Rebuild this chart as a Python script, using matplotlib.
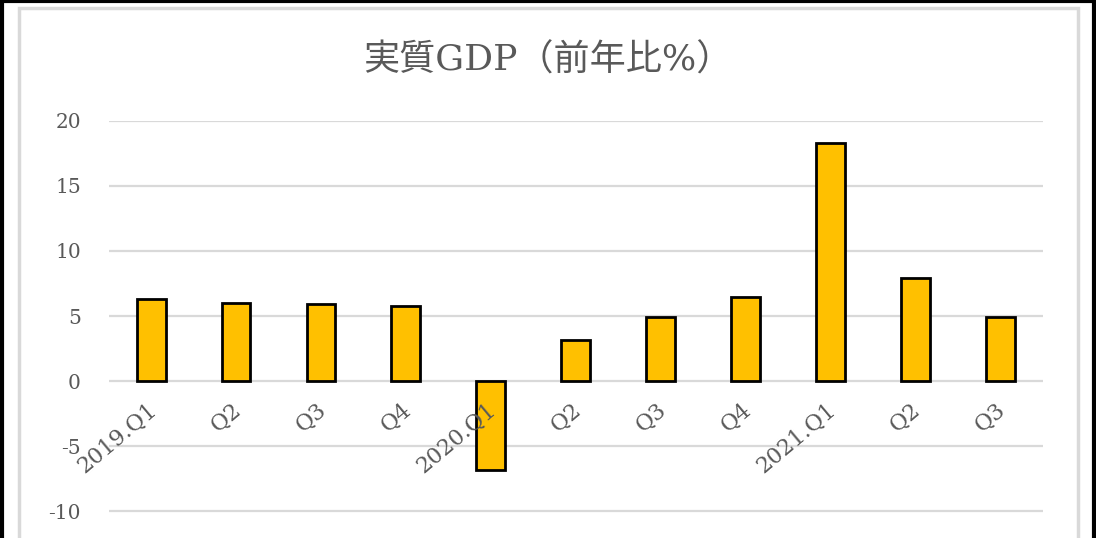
import matplotlib
matplotlib.use("Agg")
import matplotlib.pyplot as plt
from matplotlib.patches import Rectangle
from matplotlib.transforms import ScaledTranslation

quarters = ["2019.Q1", "Q2", "Q3", "Q4", "2020.Q1", "Q2", "Q3", "Q4", "2021.Q1", "Q2", "Q3"]
gdp_growth = [6.3, 6.0, 5.9, 5.8, -6.8, 3.2, 4.9, 6.5, 18.3, 7.9, 4.9]
y_ticks = [-10, -5, 0, 5, 10, 15, 20]

title_text = "実質GDP（前年比%）"

fonts = ["DejaVu Serif", "Noto Sans CJK JP"]
gray_text = "#595959"

fig = plt.figure(figsize=(10.96, 5.38), dpi=100)

# outer black frame and inner gray chart frame
fig.patches.append(Rectangle((1.5 / 1096, -0.1), 1092 / 1096, 1.1 - 1.5 / 538,
                             transform=fig.transFigure, fill=False,
                             edgecolor="black", linewidth=3))
fig.patches.append(Rectangle((18.5 / 1096, -0.1), 1059 / 1096, 1.1 - 7.5 / 538,
                             transform=fig.transFigure, fill=False,
                             edgecolor="#d9d9d9", linewidth=2.5))

ax = fig.add_axes([108.7 / 1096, 0, (1042.7 - 108.7) / 1096, (538 - 120.7) / 538])

x = list(range(len(quarters)))
ax.bar(x, gdp_growth, width=0.34, color="#FFC000", edgecolor="black",
       linewidth=2, zorder=3)

ax.set_xlim(-0.5, len(quarters) - 0.5)
ax.set_ylim(-12.04, 20)
ax.set_yticks(y_ticks)
ax.set_yticklabels([str(v) for v in y_ticks], family=fonts, fontsize=14.5,
                   color=gray_text)
ax.yaxis.grid(True, color="#d9d9d9", linewidth=1.6, zorder=0)
ax.tick_params(axis="y", length=0, pad=20)

ax.spines["bottom"].set_position(("data", 0))
ax.spines["bottom"].set_visible(False)
for s in ["top", "right", "left"]:
    ax.spines[s].set_visible(False)

# category labels sit on the zero line and are drawn over the bars
ax.set_xticks(x)
ax.set_xticklabels(quarters, family=fonts, fontsize=16, color=gray_text,
                   rotation=40, ha="right", va="center", rotation_mode="anchor")
ax.tick_params(axis="x", length=0, pad=19)
ax.xaxis.set_zorder(5)
shift = ScaledTranslation(2 / 72, 0, fig.dpi_scale_trans)
for lbl in ax.get_xticklabels():
    lbl.set_transform(lbl.get_transform() + shift)

fig.text(0.5, 1 - 60 / 538, title_text, family=fonts, fontsize=26,
         color=gray_text, ha="center", va="center")

fig.savefig("out.png", dpi=100)
